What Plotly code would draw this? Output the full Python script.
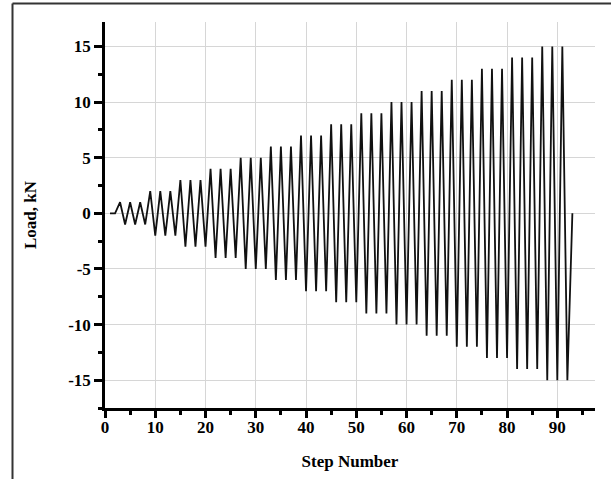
import plotly.graph_objects as go

steps = list(range(1, 94))
load_kn = [
    0, 0,
    1, -1, 1, -1, 1, -1,
    2, -2, 2, -2, 2, -2,
    3, -3, 3, -3, 3, -3,
    4, -4, 4, -4, 4, -4,
    5, -5, 5, -5, 5, -5,
    6, -6, 6, -6, 6, -6,
    7, -7, 7, -7, 7, -7,
    8, -8, 8, -8, 8, -8,
    9, -9, 9, -9, 9, -9,
    10, -10, 10, -10, 10, -10,
    11, -11, 11, -11, 11, -11,
    12, -12, 12, -12, 12, -12,
    13, -13, 13, -13, 13, -13,
    14, -14, 14, -14, 14, -14,
    15, -15, 15, -15, 15, -15,
    0,
]
x_ticks = [0, 10, 20, 30, 40, 50, 60, 70, 80, 90]
y_ticks = [-15, -10, -5, 0, 5, 10, 15]

W, H = 611, 479
L, R, T, B = 105, 16, 22, 71
pw, ph = W - L - R, H - T - B

FONT = "Liberation Serif"
tfont = dict(family=FONT, size=17, color="black")

fig = go.Figure()
fig.add_trace(go.Scatter(x=steps, y=load_kn, mode="lines",
                         line=dict(color="#111111", width=1.8),
                         showlegend=False, hoverinfo="skip"))

def px_x(p):
    return (p - L) / pw

def px_y(p):
    return (H - B - p) / ph

fig.update_layout(
    width=W, height=H,
    margin=dict(l=L, r=R, t=T, b=B, autoexpand=False),
    paper_bgcolor="white", plot_bgcolor="white",
    font=tfont,
    xaxis=dict(
        range=[0, 97.5], tickvals=x_ticks, ticktext=[f"<b>{v}</b>" for v in x_ticks],
        showgrid=True, gridcolor="#d6d6d6", gridwidth=1,
        showline=True, linecolor="black", linewidth=2.5,
        ticks="outside", ticklen=7, tickwidth=2.5, tickcolor="black",
        ticklabelstandoff=-5,
        minor=dict(dtick=5, tick0=0, ticks="outside", ticklen=4, tickwidth=2.5,
                   tickcolor="black", showgrid=False),
        zeroline=False, tickfont=tfont,
        title=dict(text="<b>Step Number</b>", standoff=19, font=tfont),
    ),
    yaxis=dict(
        range=[-17.5, 17.2], tickvals=y_ticks, ticktext=[f"<b>{v}</b>" for v in y_ticks],
        showgrid=True, gridcolor="#d6d6d6", gridwidth=1,
        showline=True, linecolor="black", linewidth=2.5,
        ticks="outside", ticklen=8, tickwidth=2.5, tickcolor="black",
        minor=dict(dtick=2.5, tick0=0, ticks="outside", ticklen=4, tickwidth=2.5,
                   tickcolor="black", showgrid=False),
        zeroline=False, tickfont=tfont,
        title=dict(text="<b>Load, kN</b>", standoff=28, font=tfont),
    ),
    shapes=[
        dict(type="line", xref="paper", yref="paper",
             x0=px_x(12.5), x1=px_x(W + 2), y0=px_y(3.5), y1=px_y(3.5),
             line=dict(color="#333333", width=2)),
        dict(type="line", xref="paper", yref="paper",
             x0=px_x(12.5), x1=px_x(12.5), y0=px_y(3.5), y1=px_y(H + 2),
             line=dict(color="#333333", width=2)),
    ],
)

fig.write_html("out.html", config={"displayModeBar": False},
               post_script="document.body.style.margin='0';document.body.style.padding='0';")
